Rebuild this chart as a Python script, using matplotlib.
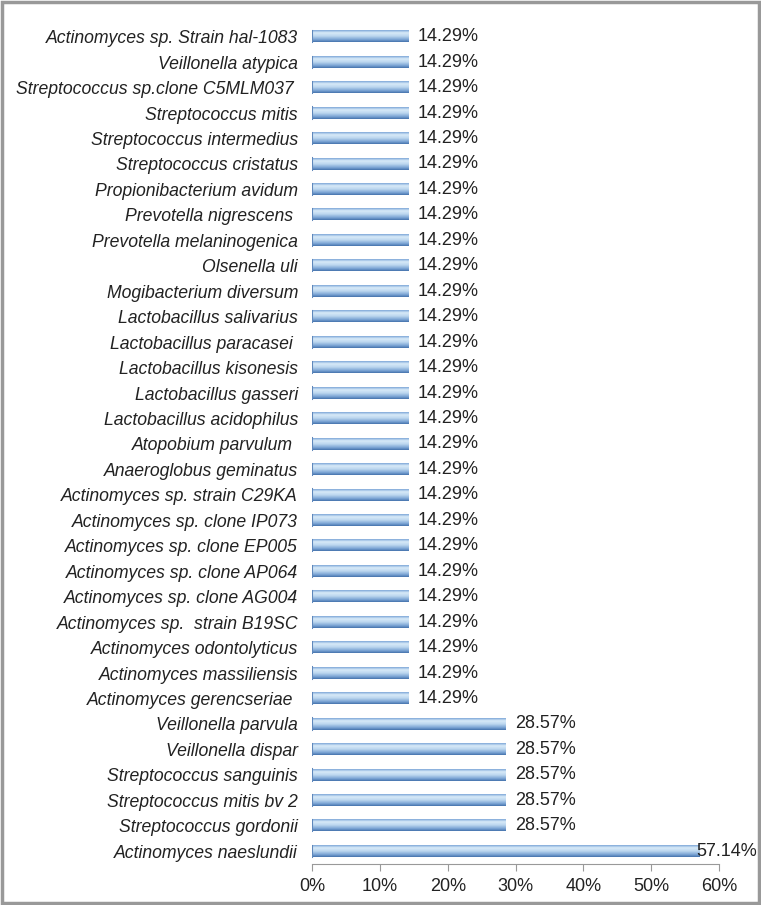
import numpy as np
import matplotlib.pyplot as plt
from matplotlib.colors import LinearSegmentedColormap

# categories listed bottom to top
species = [
    "Actinomyces naeslundii",
    "Streptococcus gordonii",
    "Streptococcus mitis bv 2",
    "Streptococcus sanguinis",
    "Veillonella dispar",
    "Veillonella parvula",
    "Actinomyces gerencseriae ",
    "Actinomyces massiliensis",
    "Actinomyces odontolyticus",
    "Actinomyces sp.  strain B19SC",
    "Actinomyces sp. clone AG004",
    "Actinomyces sp. clone AP064",
    "Actinomyces sp. clone EP005",
    "Actinomyces sp. clone IP073",
    "Actinomyces sp. strain C29KA",
    "Anaeroglobus geminatus",
    "Atopobium parvulum ",
    "Lactobacillus acidophilus",
    "Lactobacillus gasseri",
    "Lactobacillus kisonesis",
    "Lactobacillus paracasei ",
    "Lactobacillus salivarius",
    "Mogibacterium diversum",
    "Olsenella uli",
    "Prevotella melaninogenica",
    "Prevotella nigrescens ",
    "Propionibacterium avidum",
    "Streptococcus cristatus",
    "Streptococcus intermedius",
    "Streptococcus mitis",
    "Streptococcus sp.clone C5MLM037 ",
    "Veillonella atypica",
    "Actinomyces sp. Strain hal-1083",
]
values = [57.14] + [28.57] * 5 + [14.29] * 27
labels = ["57.14%"] + ["28.57%"] * 5 + ["14.29%"] * 27
xticks = [0, 10, 20, 30, 40, 50, 60]

plt.rcParams['font.family'] = ['Liberation Sans', 'DejaVu Sans']

fig = plt.figure(figsize=(7.61, 9.05), dpi=100)
ax = fig.add_axes([0.41, 0.0453, 0.535, 0.9282])

cmap = LinearSegmentedColormap.from_list(
    "bar", [(0, "#7fa8d8"), (0.22, "#d8eaf8"), (0.5, "#bcd7ef"),
            (0.8, "#7aa3d4"), (1, "#4573ad")])
grad = np.linspace(0, 1, 64).reshape(-1, 1)
h = 0.44
ypos = np.arange(len(values))
for y, v, lab in zip(ypos, values, labels):
    ax.imshow(grad, cmap=cmap, aspect='auto', origin='upper',
              extent=(0, v, y - h / 2, y + h / 2), zorder=2)
    ax.plot([0, 0], [y - h / 2, y + h / 2], color="#5f88bb", lw=1.5, zorder=3)
    ax.text(min(v + 1.3, 56.6), y, lab, va='center', ha='left', fontsize=13, color="#222222")

ax.set_xlim(0, 60)
ax.set_ylim(-0.5, len(values) - 0.5)
ax.set_yticks(ypos)
ax.set_yticklabels(species, fontsize=12.7, style='italic', color="#222222")
ax.tick_params(axis='y', length=0, pad=10)
ax.set_xticks(xticks)
ax.set_xticklabels([f"{t}%" for t in xticks], fontsize=13, color="#222222")
ax.tick_params(axis='x', direction='out', length=5, color="#999999", pad=5)
for s in ['top', 'right', 'left']:
    ax.spines[s].set_visible(False)
ax.spines['bottom'].set_color("#999999")

fig.patches.append(plt.Rectangle((0.002, 0.002), 0.996, 0.996, transform=fig.transFigure,
                                 fill=False, edgecolor="#999999", lw=2.5))
fig.savefig("out.png", dpi=100)
